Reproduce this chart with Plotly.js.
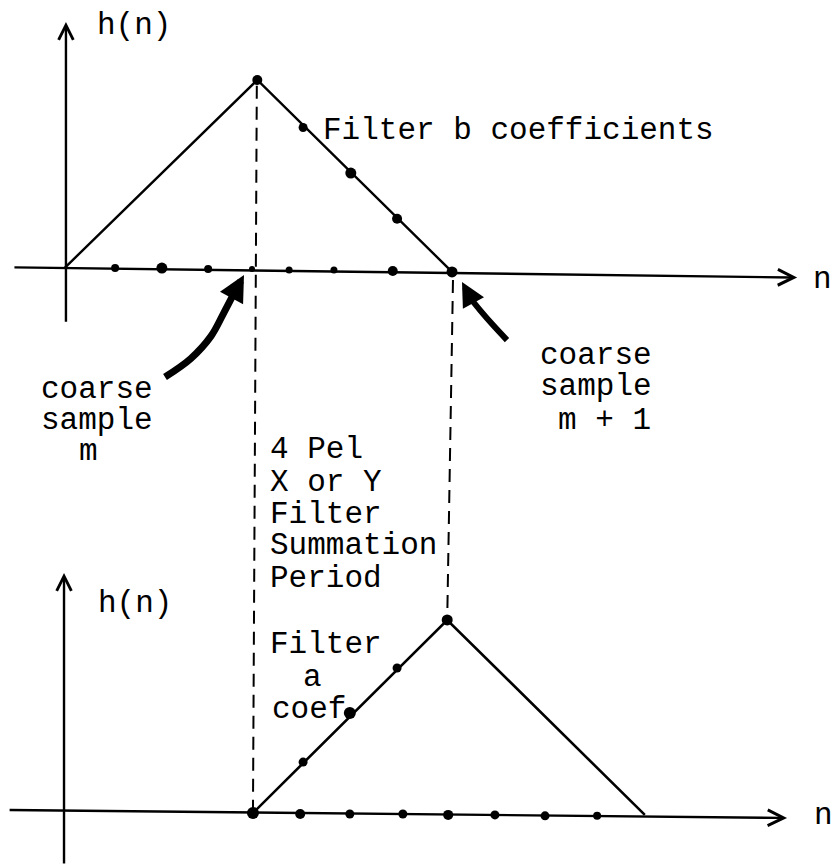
<!DOCTYPE html>
<html>
<head>
<meta charset="utf-8">
<script src="https://cdn.plot.ly/plotly-3.0.1.min.js"></script>
<style>html,body{margin:0;padding:0;background:#fff;}#chart{width:835px;height:867px;}</style>
</head>
<body>
<div id="chart"></div>
<script>
// ---- data (n = sample index, h = relative coefficient height) ----
const TOP_BASE = 2.868;               // vertical level of the upper diagram's baseline

// upper diagram: filter b
const topTriN = [0, 4, 8.04];
const topTriH = [0, 0.99, -0.02];
const topSlopeN = [4.95, 5.94, 6.90];
const topSlopeH = [0.74, 0.50, 0.26];
const topAxisDotN = [1.05, 2.02, 2.98, 3.89, 4.66, 5.59, 6.81, 8.04];
const topAxisDotH = [0, 0, -0.005, -0.005, -0.01, -0.01, -0.015, -0.02];
const topAxisDotSize = [8, 11, 8, 6, 7, 7, 10, 11];
const topYAxisN = [0.03, 0.03];
const topYAxisH = [-0.29, 1.295];
const topXAxisN = [-1.07, 15.2];
const topXAxisH = [0.004, -0.05];

// lower diagram: filter a
const botTriN = [3.91, 7.94, 12.04];
const botTriH = [0, 1.016, -0.01];
const botSlopeN = [4.95, 5.92, 6.90];
const botSlopeH = [0.268, 0.526, 0.763];
const botAxisDotN = [3.91, 4.89, 5.92, 7.02, 7.96, 8.93, 9.97, 11.05];
const botAxisDotH = [0, -0.005, -0.005, -0.005, -0.01, -0.01, -0.015, -0.015];
const botAxisDotSize = [12, 10, 9, 9, 10, 9, 9, 8];
const botYAxisN = [-0.01, -0.01];
const botYAxisH = [-0.274, 1.263];
const botXAxisN = [-1.17, 14.99];
const botXAxisH = [0.016, -0.026];

// dashed guides
const dashLeftN = [3.99, 3.91];
const dashRightN = [8.06, 7.94];
const dashRightTopH = -0.063;

// pointer arrows (coarse sample m / m+1)
const ptrLeftN = [2.085, 2.62, 3.04, 3.30, 3.475];
const ptrLeftY = [2.295, 2.392, 2.510, 2.630, 2.715];
const ptrLeftTip = [3.724, 2.832];
const ptrRightN = [9.18, 8.89, 8.62, 8.45];
const ptrRightY = [2.489, 2.568, 2.647, 2.70];
const ptrRightTip = [8.247, 2.795];

// ---- build ----
const up = a => a.map(v => v + TOP_BASE);
const BLACK = '#000';
const traces = [];
function line(x, y, w, dash, shape) {
  traces.push({x, y, type: 'scatter', mode: 'lines', hoverinfo: 'skip',
    line: {color: BLACK, width: w, dash: dash || 'solid', shape: shape || 'linear'}});
}
function dots(x, y, s) {
  traces.push({x, y, type: 'scatter', mode: 'markers', hoverinfo: 'skip',
    marker: {color: BLACK, size: s, opacity: 1, line: {width: 0}}});
}
// triangles
line(topTriN, up(topTriH), 2.4);
line(botTriN, botTriH, 2.6);
// dashed guides
line(dashLeftN, [topTriH[1] + TOP_BASE - 0.03, botTriH[0]], 2, '13px,8px');
line(dashRightN, [dashRightTopH + TOP_BASE, botTriH[1]], 2, '13px,8px');
// curved pointer bodies
line(ptrLeftN, ptrLeftY, 7, null, 'spline');
line(ptrRightN, ptrRightY, 6, null, 'spline');
// dots
dots(topAxisDotN, up(topAxisDotH), topAxisDotSize);
dots(topSlopeN, up(topSlopeH), [9, 11, 10]);
dots([topTriN[1]], [topTriH[1] + TOP_BASE], 10);
dots(botAxisDotN, botAxisDotH, botAxisDotSize);
dots(botSlopeN, botSlopeH, [9, 12, 9]);
dots([botTriN[1]], [botTriH[1]], 11);

const W = 835, H = 867;
const annotations = [];
function arrow(tail, tip, w, head, size) {
  annotations.push({x: tip[0], y: tip[1], ax: tail[0], ay: tail[1], xref: 'x', yref: 'y',
    axref: 'x', ayref: 'y', text: '', showarrow: true, arrowhead: head, arrowsize: size,
    arrowwidth: w, arrowcolor: BLACK, standoff: 0});
}
// axes with arrows
arrow([topYAxisN[0], topYAxisH[0] + TOP_BASE], [topYAxisN[1], topYAxisH[1] + TOP_BASE], 2.4, 5, 1.2);
arrow([topXAxisN[0], topXAxisH[0] + TOP_BASE], [topXAxisN[1], topXAxisH[1] + TOP_BASE], 2.4, 5, 1.3);
arrow([botYAxisN[0], botYAxisH[0]], [botYAxisN[1], botYAxisH[1]], 2.4, 5, 1.2);
arrow([botXAxisN[0], botXAxisH[0]], [botXAxisN[1], botXAxisH[1]], 2.4, 5, 1.3);
// pointer heads
arrow([ptrLeftN[4], ptrLeftY[4]], ptrLeftTip, 7, 2, 0.75);
arrow([ptrRightN[3], ptrRightY[3]], ptrRightTip, 6, 2, 0.8);

const FONT = {family: 'Liberation Mono, Courier New, monospace', size: 31, color: BLACK};
function label(txt, px, pyBase, anchor) {
  annotations.push({text: txt, xref: 'paper', yref: 'paper', x: px / W, y: 1 - (pyBase - 8) / H,
    xanchor: anchor || 'left', yanchor: 'middle', showarrow: false, font: FONT});
}
label('h(n)', 95, 33);
label('Filter b coefficients', 321, 138);
label('n', 811, 287);
label('coarse', 97, 397, 'center');
label('sample', 97, 428, 'center');
label('m', 88, 460, 'center');
label('coarse', 596, 363, 'center');
label('sample', 596, 395, 'center');
label('m + 1', 556, 428);
label('4 Pel', 268, 458);
label('X or Y', 268, 490);
label('Filter', 268, 522);
label('Summation', 268, 553);
label('Period', 268, 586);
label('h(n)', 96, 611);
label('Filter', 268, 652);
label('a', 312, 685, 'center');
label('coef', 270, 717);
label('n', 812, 823);

const layout = {
  width: W, height: H, margin: {l: 0, r: 0, t: 0, b: 0},
  paper_bgcolor: '#fff', plot_bgcolor: '#fff', showlegend: false,
  xaxis: {range: [-64.5 / 48.2, (835 - 64.5) / 48.2], visible: false, fixedrange: true},
  yaxis: {range: [(813 - 867) / 190, 813 / 190], visible: false, fixedrange: true},
  annotations
};
Plotly.newPlot('chart', traces, layout, {staticPlot: true, displayModeBar: false});
</script>
</body>
</html>
